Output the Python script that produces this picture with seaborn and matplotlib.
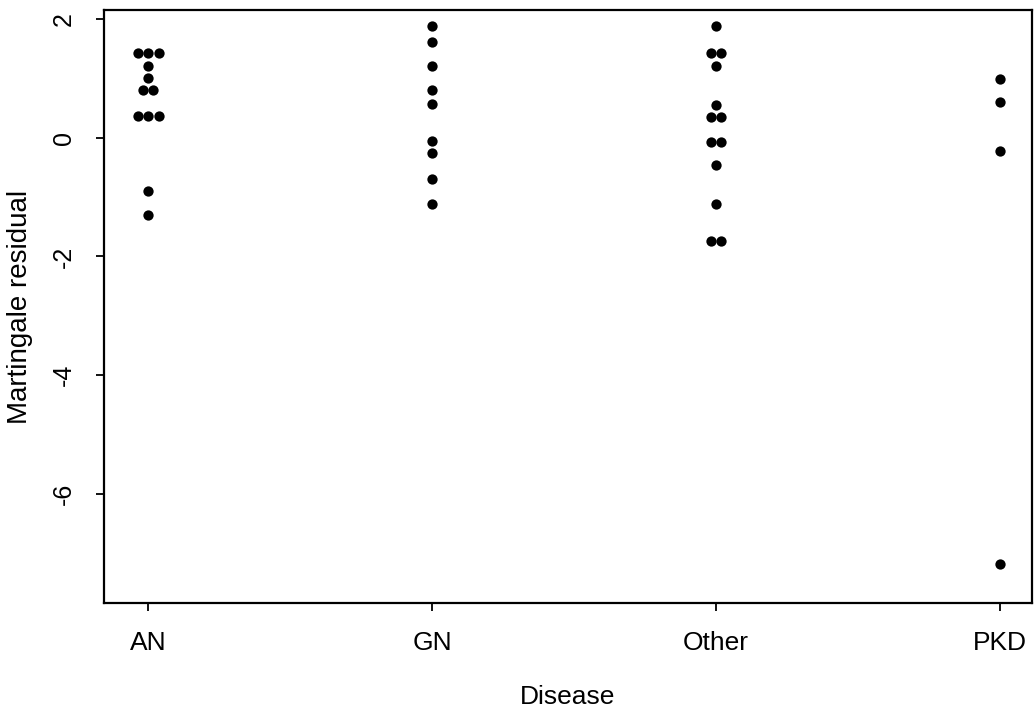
import pandas as pd
import matplotlib
matplotlib.use('Agg')
import matplotlib.pyplot as plt
import seaborn as sns
import numpy as np

# martingale residuals, per disease group
diseases = ['AN', 'GN', 'Other', 'PKD']
res_an = [1.43, 1.43, 1.43, 1.21, 1.00, 0.80, 0.80, 0.37, 0.37, 0.37, -0.89, -1.30]
res_gn = [1.88, 1.62, 1.20, 0.80, 0.57, -0.05, -0.26, -0.70, -1.11]
res_other = [1.88, 1.42, 1.42, 1.20, 0.55, 0.35, 0.35, -0.07, -0.07, -0.46, -1.12, -1.74, -1.74]
res_pkd = [0.99, 0.60, -0.23, -7.19]

df = pd.DataFrame({
    'Disease': ['AN'] * len(res_an) + ['GN'] * len(res_gn)
               + ['Other'] * len(res_other) + ['PKD'] * len(res_pkd),
    'Martingale residual': res_an + res_gn + res_other + res_pkd,
})

# stack tied values side by side (like stripchart method="stack")
df['code'] = df['Disease'].map({d: i for i, d in enumerate(diseases)})
grp = df.groupby(['Disease', 'Martingale residual'])
df['k'] = grp.cumcount()
df['n'] = grp['code'].transform('size')
step = 0.037
df['xpos'] = df['code'] + (df['k'] - (df['n'] - 1) / 2) * step

sns.set_style('ticks', {'text.color': 'black', 'axes.labelcolor': 'black',
                        'xtick.color': 'black', 'ytick.color': 'black',
                        'axes.edgecolor': 'black'})
plt.rcParams['font.family'] = ['Liberation Sans', 'DejaVu Sans']

fig = plt.figure(figsize=(10.35, 7.19), dpi=100)
ax = fig.add_axes([0.1005, 0.1613, 0.8965, 0.8247])
sns.scatterplot(data=df, x='xpos', y='Martingale residual', color='black',
                s=55, edgecolor='black', linewidth=0, ax=ax, legend=False)

ax.set_xlim(-0.155, 3.113)
ax.set_ylim(-7.84, 2.15)
ax.set_xticks(range(len(diseases)))
ax.set_xticklabels(diseases, fontsize=19)
ax.set_yticks([-6, -4, -2, 0, 2])
ax.set_yticklabels(['-6', '-4', '-2', '0', '2'], fontsize=18, rotation=90, va='center')
ax.set_xlabel('Disease', fontsize=19, labelpad=22)
ax.set_ylabel('Martingale residual', fontsize=20, labelpad=14)
ax.tick_params(axis='both', length=6, width=1.3, color='black', labelcolor='black', pad=14)
for sp in ax.spines.values():
    sp.set_visible(True)
    sp.set_linewidth(1.6)
    sp.set_color('black')

fig.savefig('out.png', dpi=100)
